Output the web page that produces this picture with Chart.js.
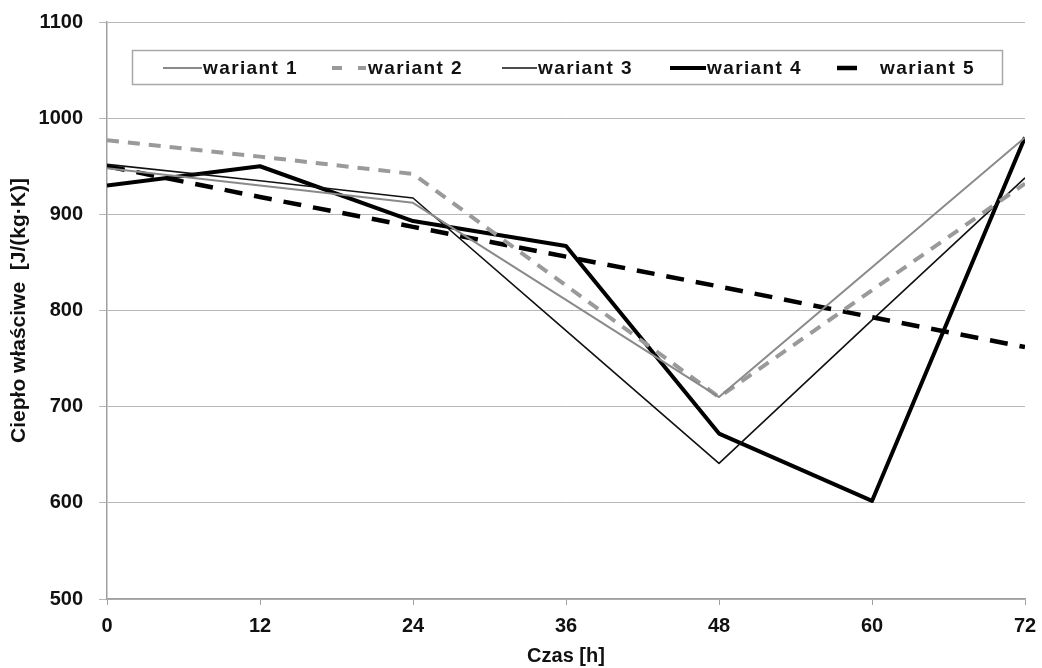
<!DOCTYPE html>
<html>
<head>
<meta charset="utf-8">
<script src="https://cdn.jsdelivr.net/npm/chart.js@4.4.1/dist/chart.umd.min.js"></script>
<style>
  html, body { margin: 0; padding: 0; background: #fff; }
  #wrap { width: 1042px; height: 668px; }
</style>
</head>
<body>
<div id="wrap"><canvas id="myChart" width="1042" height="668"></canvas></div>
<script>
const hours = [0, 12, 24, 36, 48, 60, 72];
const wariant1 = [948, 930, 912, 811, 710, 845, 980];
const wariant2 = [977, 960, 942, 826, 710, 821, 932];
const wariant3 = [952, 935, 917, 779, 641, 790, 938];
const wariant4 = [930, 950, 893, 867, 672, 602, 980];
const wariant5 = [950, 918, 887, 856, 825, 793, 762];
const seriesNames = ['wariant 1', 'wariant 2', 'wariant 3', 'wariant 4', 'wariant 5'];
const yTicks = [500, 600, 700, 800, 900, 1000, 1100];

const FONT = 'Liberation Sans, Arial, sans-serif';

function points(vals){
    return vals.map((v, i) => ({x: hours[i], y: v}));
}

// legend box sits inside the plot area, like the original
const boxLegend = {
    id: 'boxLegend',
    afterDraw(chart){
        const ctx = chart.ctx;
        const left = 132, top = 50, right = 1002, bottom = 84;
        ctx.save();
        ctx.fillStyle = '#fff';
        ctx.fillRect(left, top, right - left, bottom - top);
        ctx.strokeStyle = '#a8a8a8';
        ctx.lineWidth = 1.5;
        ctx.strokeRect(left + 0.5, top + 0.5, right - left, bottom - top);
        const items = [
            {x1: 163, x2: 202, tx: 203, dash: []},
            {x1: 332, x2: 366, tx: 368, dash: [10, 16]},
            {x1: 502, x2: 537, tx: 538, dash: []},
            {x1: 670, x2: 706, tx: 707, dash: []},
            {x1: 837, x2: 857, tx: 880, dash: []}
        ];
        const cy = (top + bottom) / 2 + 1;
        ctx.font = 'bold 19px ' + FONT;
        ctx.letterSpacing = '1.4px';
        ctx.textBaseline = 'middle';
        ctx.fillStyle = '#111';
        chart.data.datasets.forEach((ds, i) => {
            const it = items[i];
            ctx.beginPath();
            ctx.strokeStyle = ds.borderColor;
            ctx.lineWidth = ds.borderWidth;
            ctx.setLineDash(it.dash);
            ctx.moveTo(it.x1, cy);
            ctx.lineTo(it.x2, cy);
            ctx.stroke();
            ctx.setLineDash([]);
            ctx.fillText(ds.label, it.tx, cy + 1);
        });
        ctx.restore();
    }
};

const ctx = document.getElementById('myChart').getContext('2d');
const myChart = new Chart(ctx, {
    type: 'line',
    data: {
        datasets: [
            {label: seriesNames[0], data: points(wariant1), borderColor: '#8a8a8a', borderWidth: 2},
            {label: seriesNames[1], data: points(wariant2), borderColor: '#9a9a9a', borderWidth: 4, borderDash: [12, 9]},
            {label: seriesNames[2], data: points(wariant3), borderColor: '#111', borderWidth: 1.6},
            {label: seriesNames[3], data: points(wariant4), borderColor: '#000', borderWidth: 4},
            {label: seriesNames[4], data: points(wariant5), borderColor: '#000', borderWidth: 4.5, borderDash: [18, 12]}
        ]
    },
    options: {
        responsive: false,
        animation: false,
        devicePixelRatio: 1,
        elements: {
            point: {radius: 0},
            line: {tension: 0, borderCapStyle: 'butt', borderJoinStyle: 'round'}
        },
        layout: {padding: {left: 0, right: 17, top: 22, bottom: 0}},
        plugins: {
            legend: {display: false},
            tooltip: {enabled: false}
        },
        scales: {
            x: {
                type: 'linear',
                min: 0,
                max: 72,
                afterBuildTicks: s => { s.ticks = hours.map(v => ({value: v})); },
                afterFit: s => { s.height = 69; s.paddingLeft = 0; s.paddingRight = 0; },
                grid: {display: true, drawOnChartArea: false, drawTicks: true, tickLength: 6, color: '#a0a0a0'},
                border: {color: '#a0a0a0', width: 1.5},
                ticks: {color: '#111', font: {family: FONT, size: 20, weight: 'bold'}, padding: 9, maxRotation: 0},
                title: {display: true, text: 'Czas [h]', color: '#111', font: {family: FONT, size: 20, weight: 'bold'}, padding: {top: 0, bottom: 0}}
            },
            y: {
                min: 500,
                max: 1100,
                afterBuildTicks: s => { s.ticks = yTicks.map(v => ({value: v})); },
                afterFit: s => { s.width = 107; s.paddingTop = 0; s.paddingBottom = 0; },
                grid: {color: '#b8b8b8', lineWidth: 1, tickLength: 8, drawTicks: true},
                border: {color: '#a0a0a0', width: 1.5},
                ticks: {color: '#111', font: {family: FONT, size: 20, weight: 'bold'}, padding: 16, callback: v => String(v)},
                title: {display: true, text: 'Ciepło właściwe  [J/(kg·K)]', color: '#111', font: {family: FONT, size: 21, weight: 'bold'}, padding: {top: 7, bottom: 0}}
            }
        }
    },
    plugins: [boxLegend]
});
</script>
</body>
</html>
